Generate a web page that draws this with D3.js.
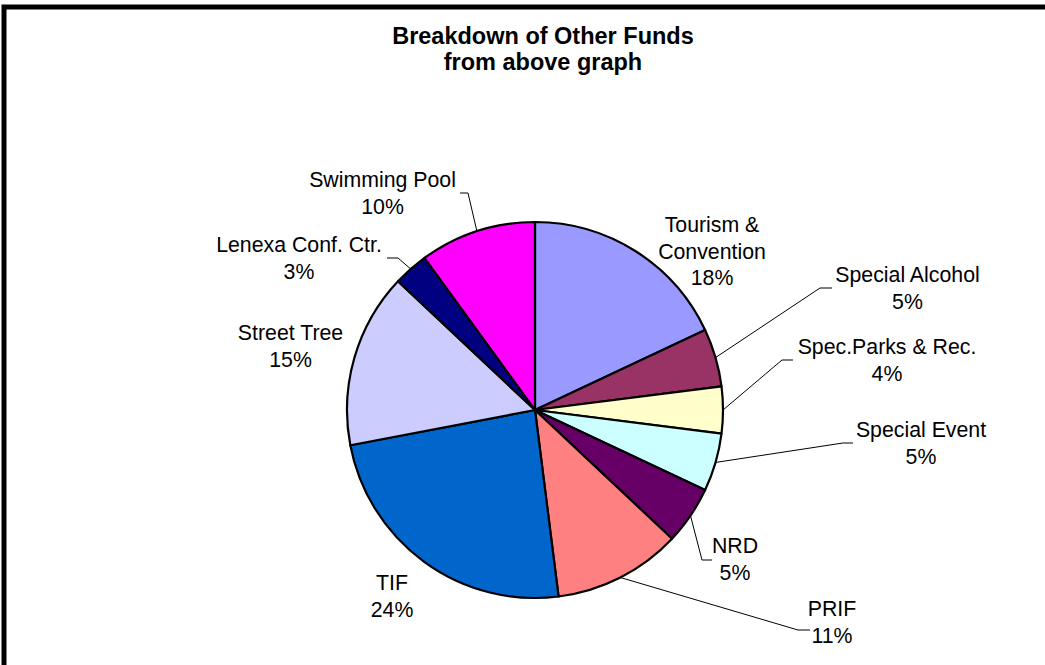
<!DOCTYPE html>
<html>
<head>
<meta charset="utf-8">
<script src="https://cdn.jsdelivr.net/npm/d3@7"></script>
<style>
  html, body { margin: 0; padding: 0; background: #ffffff; }
  svg { display: block; }
  text { font-family: "Liberation Sans", Arial, sans-serif; fill: #000; }
</style>
</head>
<body>
<svg id="chart" width="1045" height="665"></svg>
<script>
// Fund names, clockwise from 12 o'clock
const categories = [
  "Tourism & Convention", "Special Alcohol", "Spec.Parks & Rec.", "Special Event",
  "NRD", "PRIF", "TIF", "Street Tree", "Lenexa Conf. Ctr.", "Swimming Pool"
];
// Share of the other funds, percent
const shares = [18, 5, 4, 5, 5, 11, 24, 15, 3, 10];
// Label text lines (the percentage is added as the last line)
const labelLines = [
  ["Tourism &", "Convention"], ["Special Alcohol"], ["Spec.Parks & Rec."], ["Special Event"],
  ["NRD"], ["PRIF"], ["TIF"], ["Street Tree"], ["Lenexa Conf. Ctr."], ["Swimming Pool"]
];
const colors = [
  "#9999FF", "#993366", "#FFFFCC", "#CCFFFF", "#660066",
  "#FF8080", "#0066CC", "#CCCCFF", "#000080", "#FF00FF"
];
const titleLines = ["Breakdown of Other Funds", "from above graph"];

// Label placement relative to the pie centre: text centre x, first baseline y,
// and for labels with a leader line, the elbow and end of that line.
const labelLayout = [
  { x: 177,    y: -178 },
  { x: 372.5,  y: -128, elbow: [285, -122], end: [297, -122] },
  { x: 352,    y: -56,  elbow: [247, -50],  end: [258, -50] },
  { x: 386,    y: 27,   elbow: [308, 33],   end: [318, 33] },
  { x: 200,    y: 143,  elbow: [167, 150],  end: [177, 150] },
  { x: 297,    y: 206,  elbow: [263, 220],  end: [275, 220] },
  { x: -143,   y: 180 },
  { x: -244.5, y: -70 },
  { x: -236,   y: -158, elbow: [-137, -152], end: [-148, -152] },
  { x: -152.5, y: -223, elbow: [-67, -217],  end: [-75, -217] }
];

const svg = d3.select("#chart");
const W = 1045, H = 665;
const cx = 535, cy = 410, radius = 188;
const lineGap = 26.5;

// Chart frame (extends past the right and bottom edges)
svg.append("rect")
  .attr("x", 4).attr("y", 7)
  .attr("width", W + 20).attr("height", H + 20)
  .attr("fill", "#ffffff")
  .attr("stroke", "#000").attr("stroke-width", 5);

// Title
svg.append("text")
  .attr("x", 543).attr("y", 44)
  .attr("text-anchor", "middle")
  .style("font-size", "23.5px").style("font-weight", "bold")
  .selectAll("tspan").data(titleLines).join("tspan")
  .attr("x", 543).attr("dy", (d, i) => i === 0 ? 0 : 26)
  .text(d => d);

const data = categories.map((c, i) => ({ name: c, value: shares[i], i }));

const pie = d3.pie().value(d => d.value).sort(null)
  .startAngle(0).endAngle(2 * Math.PI);
const arcs = pie(data);
const arc = d3.arc().innerRadius(0).outerRadius(radius);

const g = svg.append("g").attr("transform", `translate(${cx},${cy})`);

g.selectAll("path.slice").data(arcs).join("path")
  .attr("class", "slice")
  .attr("d", arc)
  .attr("fill", d => colors[d.data.i])
  .attr("stroke", "#000").attr("stroke-width", 2.2)
  .attr("stroke-linejoin", "round");

// Leader lines from the middle of each slice's rim
const rimPoint = d => {
  const a = (d.startAngle + d.endAngle) / 2;
  return [radius * Math.sin(a), -radius * Math.cos(a)];
};
g.selectAll("path.leader").data(arcs.filter(d => labelLayout[d.data.i].elbow)).join("path")
  .attr("class", "leader")
  .attr("fill", "none")
  .attr("stroke", "#000").attr("stroke-width", 1)
  .attr("d", d => {
    const L = labelLayout[d.data.i];
    return d3.line()([rimPoint(d), L.elbow, L.end]);
  });

// Data labels: name lines followed by the rounded percentage
const labels = g.selectAll("text.label").data(arcs).join("text")
  .attr("class", "label")
  .attr("text-anchor", "middle")
  .style("font-size", "21.3px");
labels.each(function(d) {
  const L = labelLayout[d.data.i];
  const lines = labelLines[d.data.i].concat([d3.format(".0%")(d.data.value / 100)]);
  d3.select(this).selectAll("tspan").data(lines).join("tspan")
    .attr("x", L.x)
    .attr("y", (t, k) => L.y + k * lineGap)
    .text(t => t);
});
</script>
</body>
</html>
